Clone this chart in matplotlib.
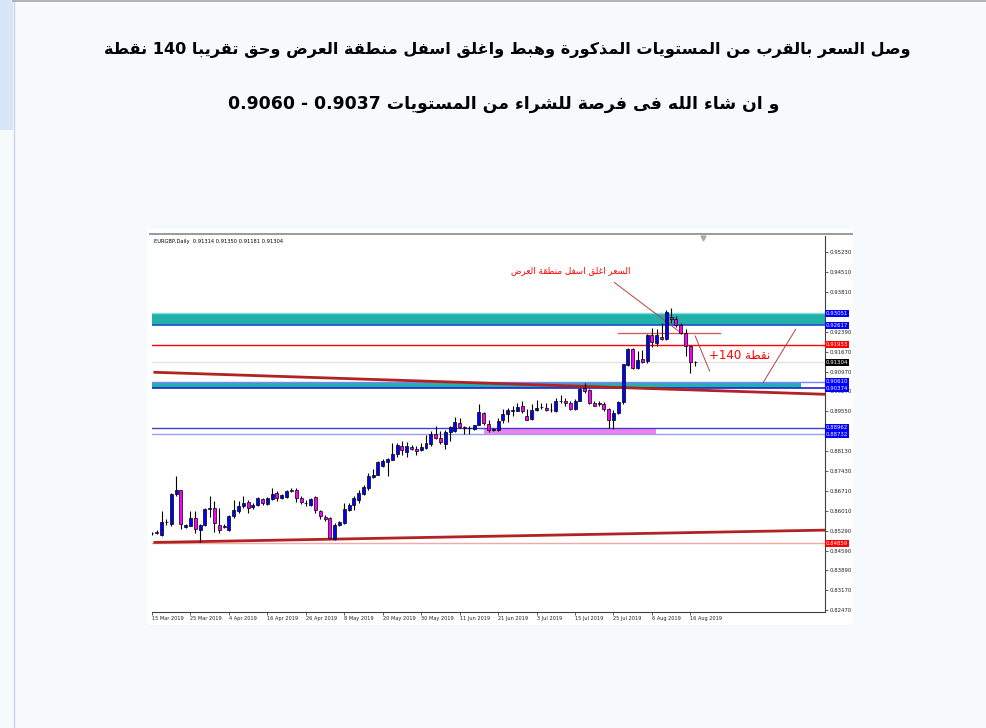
import matplotlib
matplotlib.use("Agg")
import matplotlib.pyplot as plt
import matplotlib.transforms as mtransforms
from matplotlib.patches import Rectangle
from matplotlib.lines import Line2D

# ---------------- data ----------------
TITLE_1 = "وصل السعر بالقرب من المستويات المذكورة وهبط واغلق اسفل منطقة العرض وحق تقريبا 140 نقطة"
TITLE_2 = "و ان شاء الله فى فرصة للشراء من المستويات 0.9037 - 0.9060"
NOTE_SUPPLY = "السعر اغلق اسفل منطقة العرض"
NOTE_PIPS = "+140 نقطة"
SYMBOL = "EURGBP,Daily"

opens = [0.85200, 0.85260, 0.85141, 0.85593, 0.85545, 0.86605, 0.86748, 0.85414, 0.85474, 0.85748,
         0.85331, 0.85486, 0.86070, 0.86105, 0.85498, 0.85450, 0.85331, 0.85807, 0.85986, 0.86165,
         0.86320, 0.86141, 0.86200, 0.86427, 0.86260, 0.86438, 0.86641, 0.86450, 0.86498, 0.86736,
         0.86760, 0.86462, 0.86296, 0.86212, 0.86486, 0.86010, 0.85772, 0.85748, 0.85020, 0.85510,
         0.85569, 0.86022, 0.86225, 0.86403, 0.86618, 0.86820, 0.87213, 0.87297, 0.87618, 0.87761,
         0.87833, 0.88047, 0.88309, 0.88095, 0.88285, 0.88214, 0.88166, 0.88249, 0.88404, 0.88762,
         0.88607, 0.88404, 0.88809, 0.88869, 0.89143, 0.89012, 0.88970, 0.88940, 0.89083, 0.89500,
         0.89107, 0.88881, 0.88881, 0.89262, 0.89464, 0.89560, 0.89583, 0.89738, 0.89405, 0.89286,
         0.89595, 0.89714, 0.89679, 0.89619, 0.89560, 0.89917, 0.89940, 0.89857, 0.89643, 0.89940,
         0.90393, 0.90310, 0.89857, 0.89857, 0.89833, 0.89643, 0.89238, 0.89500, 0.89893, 0.91204,
         0.91787, 0.91085, 0.91406, 0.91347, 0.92264, 0.92002, 0.92204, 0.92145, 0.92931, 0.92859,
         0.92621, 0.92359, 0.91883, 0.91314]
highs = [0.85260, 0.85307, 0.85986, 0.85712, 0.86641, 0.87260, 0.86760, 0.85520, 0.85986, 0.85986,
         0.85545, 0.86105, 0.86522, 0.86343, 0.86105, 0.85520, 0.85867, 0.86403, 0.86343, 0.86522,
         0.86403, 0.86284, 0.86486, 0.86462, 0.86486, 0.86820, 0.86700, 0.86617, 0.86760, 0.86820,
         0.86820, 0.86522, 0.86403, 0.86462, 0.86522, 0.86046, 0.85867, 0.85784, 0.85569, 0.85629,
         0.86284, 0.86284, 0.86523, 0.86761, 0.86939, 0.87356, 0.87499, 0.87773, 0.87856, 0.87892,
         0.88428, 0.88428, 0.88512, 0.88452, 0.88369, 0.88309, 0.88428, 0.88726, 0.88845, 0.89024,
         0.88845, 0.88905, 0.89024, 0.89357, 0.89321, 0.89024, 0.89024, 0.89083, 0.89798, 0.89536,
         0.89262, 0.88960, 0.89321, 0.89643, 0.89679, 0.89762, 0.89857, 0.89917, 0.89643, 0.89798,
         0.89952, 0.89857, 0.89857, 0.89857, 0.90036, 0.90119, 0.90036, 0.89917, 0.89976, 0.90393,
         0.90548, 0.90357, 0.89917, 0.89917, 0.89881, 0.89679, 0.89619, 0.89917, 0.91250, 0.91823,
         0.91823, 0.91704, 0.91728, 0.92300, 0.92538, 0.92502, 0.92692, 0.93157, 0.93252, 0.92954,
         0.92692, 0.92502, 0.91918, 0.91350]
lows = [0.85150, 0.85164, 0.85117, 0.85498, 0.85450, 0.86545, 0.85355, 0.85390, 0.85450, 0.85212,
        0.84879, 0.85450, 0.85800, 0.85236, 0.85212, 0.85380, 0.85300, 0.85760, 0.85926, 0.86120,
        0.85926, 0.86070, 0.86165, 0.86224, 0.86224, 0.86403, 0.86343, 0.86427, 0.86462, 0.86665,
        0.86320, 0.86260, 0.86189, 0.86189, 0.85926, 0.85712, 0.85628, 0.84990, 0.84975, 0.85450,
        0.85545, 0.85986, 0.86046, 0.86284, 0.86582, 0.86761, 0.87178, 0.87297, 0.87571, 0.87237,
        0.87809, 0.87928, 0.87999, 0.87928, 0.88190, 0.88011, 0.88130, 0.88214, 0.88309, 0.88571,
        0.88404, 0.88214, 0.88488, 0.88833, 0.88964, 0.88762, 0.88762, 0.88905, 0.89059, 0.89083,
        0.88833, 0.88850, 0.88845, 0.89143, 0.89166, 0.89381, 0.89560, 0.89500, 0.89238, 0.89238,
        0.89560, 0.89643, 0.89560, 0.89524, 0.89536, 0.89857, 0.89738, 0.89595, 0.89619, 0.89917,
        0.90214, 0.89821, 0.89738, 0.89738, 0.89560, 0.88964, 0.88928, 0.89476, 0.89800, 0.91168,
        0.91049, 0.91049, 0.91287, 0.91287, 0.91859, 0.91883, 0.92097, 0.92097, 0.92716, 0.92573,
        0.92300, 0.91526, 0.90930, 0.91181]
closes = [0.85210, 0.85212, 0.85593, 0.85605, 0.86605, 0.86748, 0.85545, 0.85498, 0.85748, 0.85343,
          0.85498, 0.86058, 0.86094, 0.85569, 0.85331, 0.85426, 0.85831, 0.86046, 0.86189, 0.86284,
          0.86105, 0.86224, 0.86450, 0.86284, 0.86450, 0.86617, 0.86462, 0.86581, 0.86700, 0.86724,
          0.86462, 0.86308, 0.86284, 0.86427, 0.86046, 0.85807, 0.85724, 0.85040, 0.85510, 0.85593,
          0.86070, 0.86224, 0.86463, 0.86642, 0.86856, 0.87237, 0.87297, 0.87737, 0.87773, 0.87856,
          0.88047, 0.88369, 0.88166, 0.88309, 0.88226, 0.88154, 0.88273, 0.88428, 0.88762, 0.88607,
          0.88452, 0.88809, 0.88988, 0.89178, 0.89000, 0.88952, 0.88964, 0.89059, 0.89524, 0.89131,
          0.88881, 0.88940, 0.89202, 0.89464, 0.89619, 0.89619, 0.89714, 0.89560, 0.89262, 0.89619,
          0.89679, 0.89726, 0.89595, 0.89607, 0.89940, 0.89929, 0.89857, 0.89643, 0.89940, 0.90333,
          0.90274, 0.89857, 0.89762, 0.89798, 0.89643, 0.89238, 0.89500, 0.89893, 0.91228, 0.91787,
          0.91085, 0.91370, 0.91323, 0.92264, 0.92026, 0.92264, 0.92121, 0.93097, 0.92859, 0.92621,
          0.92359, 0.91883, 0.91323, 0.91304]

date_labels = ["15 Mar 2019", "25 Mar 2019", "4 Apr 2019", "16 Apr 2019", "26 Apr 2019",
               "8 May 2019", "20 May 2019", "30 May 2019", "11 Jun 2019", "21 Jun 2019",
               "3 Jul 2019", "15 Jul 2019", "25 Jul 2019", "6 Aug 2019", "16 Aug 2019"]
date_bars = [0, 8, 16, 24, 32, 40, 48, 56, 64, 72, 80, 88, 96, 104, 112]

# scale labels that are not covered by the coloured price tags
price_ticks = [0.95230, 0.94510, 0.93810, 0.92390, 0.91670, 0.90970, 0.90270,
               0.89550, 0.88130, 0.87430, 0.86710, 0.86010, 0.85290, 0.84590,
               0.83890, 0.83170, 0.82470]

supply_zone = (0.92617, 0.93051)
demand_zone = (0.90374, 0.90610, 135.0)     # low, high, last bar
buy_zone = (0.88732, 0.88962, 69.1, 104.9)  # low, high, first bar, last bar
resistance = 0.91933
support = 0.84859
peak_line = (97.0, 118.2, 0.92360)
upper_trend = [(0.3, 0.90948), (140.0, 0.90162)]
lower_trend = [(0.3, 0.84880), (140.0, 0.85319)]
arrows = [[(96.2, 0.94147), (109.9, 0.92371)],
          [(113.0, 0.92239), (116.0, 0.90988)],
          [(127.1, 0.90573), (133.9, 0.92478)]]
note_supply_at = (87.1, 0.94587)
note_pips_at = (122.2, 0.91549)

# ---------------- simple arabic shaping (matplotlib has no bidi / joining) ----------------
_AR = [("\u0621", 0xFE80, "U"), ("\u0622", 0xFE81, "R"), ("\u0623", 0xFE83, "R"),
       ("\u0624", 0xFE85, "R"), ("\u0625", 0xFE87, "R"), ("\u0626", 0xFE89, "D"),
       ("\u0627", 0xFE8D, "R"), ("\u0628", 0xFE8F, "D"), ("\u0629", 0xFE93, "R"),
       ("\u062A", 0xFE95, "D"), ("\u062B", 0xFE99, "D"), ("\u062C", 0xFE9D, "D"),
       ("\u062D", 0xFEA1, "D"), ("\u062E", 0xFEA5, "D"), ("\u062F", 0xFEA9, "R"),
       ("\u0630", 0xFEAB, "R"), ("\u0631", 0xFEAD, "R"), ("\u0632", 0xFEAF, "R"),
       ("\u0633", 0xFEB1, "D"), ("\u0634", 0xFEB5, "D"), ("\u0635", 0xFEB9, "D"),
       ("\u0636", 0xFEBD, "D"), ("\u0637", 0xFEC1, "D"), ("\u0638", 0xFEC5, "D"),
       ("\u0639", 0xFEC9, "D"), ("\u063A", 0xFECD, "D"), ("\u0641", 0xFED1, "D"),
       ("\u0642", 0xFED5, "D"), ("\u0643", 0xFED9, "D"), ("\u0644", 0xFEDD, "D"),
       ("\u0645", 0xFEE1, "D"), ("\u0646", 0xFEE5, "D"), ("\u0647", 0xFEE9, "D"),
       ("\u0648", 0xFEED, "R"), ("\u0649", 0xFEEF, "R"), ("\u064A", 0xFEF1, "D")]
FORMS = {c: (b, t) for c, b, t in _AR}
LAM_ALEF = {"\u0622": 0xFEF5, "\u0623": 0xFEF7, "\u0625": 0xFEF9, "\u0627": 0xFEFB}


def _jtype(c):
    if c is None:
        return None
    if isinstance(c, int):
        return "R"
    return FORMS[c][1] if c in FORMS else None


def shape_word(word):
    units = []
    k = 0
    while k < len(word):
        if word[k] == "\u0644" and k + 1 < len(word) and word[k + 1] in LAM_ALEF:
            units.append(LAM_ALEF[word[k + 1]])
            k += 2
        else:
            units.append(word[k])
            k += 1
    out = []
    for k, u in enumerate(units):
        t = _jtype(u)
        if t is None:
            out.append(u)
            continue
        prev = units[k - 1] if k > 0 else None
        nxt = units[k + 1] if k + 1 < len(units) else None
        jp = t in ("D", "R") and _jtype(prev) == "D"
        jn = t == "D" and _jtype(nxt) in ("D", "R")
        idx = 3 if (jp and jn) else 1 if jp else 2 if jn else 0
        base = u if isinstance(u, int) else FORMS[u][0]
        out.append(chr(base + idx))
    return "".join(out)


def visual(text, rtl=True):
    words = []
    for w in text.split(" "):
        if any(c in FORMS for c in w):
            words.append(shape_word(w)[::-1])
        else:
            words.append(w)
    if rtl:
        words = words[::-1]
    return " ".join(words)


# ---------------- page ----------------
W, H = 986, 728
fig = plt.figure(figsize=(W / 100, H / 100), dpi=100)
fig.patch.set_facecolor("#f7fafd")


def fx(px):
    return px / W


def fy(py):
    return 1 - py / H


fig.add_artist(Rectangle((0, fy(130)), fx(13), 130 / H, transform=fig.transFigure,
                         facecolor="#d6e6f6", edgecolor="none", zorder=-5))
fig.add_artist(Line2D([fx(13.5), fx(13.5)], [0, 1], transform=fig.transFigure,
                      color="#c3d6ea", lw=1, zorder=-5))
fig.add_artist(Line2D([fx(13), 1], [fy(1), fy(1)], transform=fig.transFigure,
                      color="#a8a8a8", lw=1.2, zorder=-5))

fig.text(fx(507), fy(50), visual(TITLE_1), ha="center", va="center",
         fontsize=11.6, fontweight="bold", family="DejaVu Sans", color="black")
fig.text(fx(504), fy(104), visual(TITLE_2), ha="center", va="center",
         fontsize=12.4, fontweight="bold", family="DejaVu Sans", color="black")

# chart image background
fig.add_artist(Rectangle((fx(147), fy(625)), fx(853 - 147), (625 - 229) / H,
                         transform=fig.transFigure, facecolor="white", edgecolor="none", zorder=-4))
fig.add_artist(Line2D([fx(150), fx(852)], [fy(234), fy(234)], transform=fig.transFigure,
                      color="#9a9a9a", lw=1.4, zorder=5))

# ---------------- chart ----------------
ax = fig.add_axes([fx(152), fy(612), fx(825 - 152), (612 - 236) / H])
ax.set_facecolor("white")
ax.set_xlim(0.3, 140.0)
ax.set_ylim(0.82400, 0.95805)

for side in ["left", "top"]:
    ax.spines[side].set_visible(False)
ax.spines["right"].set_color("#404040")
ax.spines["bottom"].set_color("#404040")
ax.spines["right"].set_linewidth(0.8)
ax.spines["bottom"].set_linewidth(0.8)

xs = list(range(len(opens)))

# zones
ax.add_patch(Rectangle((-5, supply_zone[0]), 160, supply_zone[1] - supply_zone[0],
                       facecolor="#20b2aa", edgecolor="none", zorder=1))
ax.add_patch(Rectangle((-5, demand_zone[0]), demand_zone[2] + 5, demand_zone[1] - demand_zone[0],
                       facecolor="#20b2aa", edgecolor="none", zorder=1))
ax.add_patch(Rectangle((buy_zone[2], buy_zone[0]), buy_zone[3] - buy_zone[2], buy_zone[1] - buy_zone[0],
                       facecolor="#ee82ee", edgecolor="none", zorder=1))

ax.axhline(supply_zone[1], color="#7fe0e0", lw=1.0, zorder=2)
ax.axhline(supply_zone[0], color="#1a4fd0", lw=1.2, zorder=2)
ax.axhline(demand_zone[1], color="#8080ff", lw=1.0, zorder=2)
ax.axhline(demand_zone[0], color="#1f1fe0", lw=1.2, zorder=2)
ax.axhline(buy_zone[1], color="#4040c8", lw=1.0, zorder=2)
ax.axhline(buy_zone[0], color="#9c9cff", lw=1.0, zorder=2)
ax.axhline(resistance, color="#ff0000", lw=1.0, zorder=2)
ax.axhline(support, color="#f4a8a8", lw=1.0, zorder=2)
ax.axhline(closes[-1], color="#e2e2e2", lw=1.0, zorder=1.5)

# trend lines
for line in (upper_trend, lower_trend):
    ax.plot([p[0] for p in line], [p[1] for p in line], color="#b22222", lw=2.0,
            solid_capstyle="butt", zorder=2.5)
ax.plot([peak_line[0], peak_line[1]], [peak_line[2], peak_line[2]], color="#d06060", lw=1.0, zorder=2.5)
for a in arrows:
    ax.plot([a[0][0], a[1][0]], [a[0][1], a[1][1]], color="#b84040", lw=0.7, zorder=2.5)

# candles
bull = [c >= o for o, c in zip(opens, closes)]
body_col = ["#0000ff" if b else "#ff00ff" for b in bull]
ax.vlines(xs, lows, highs, color="black", lw=0.8, zorder=3)
ax.bar(xs, [c - o for o, c in zip(opens, closes)], bottom=opens, width=0.62,
       color=body_col, edgecolor="black", linewidth=0.5, zorder=4)

# annotations
ax.text(note_supply_at[0], note_supply_at[1], visual(NOTE_SUPPLY), color="#ff0000",
        fontsize=6.3, ha="center", va="center", family="DejaVu Sans", zorder=6)
ax.text(note_pips_at[0], note_pips_at[1], visual(NOTE_PIPS, rtl=False), color="#ff0000",
        fontsize=8.5, ha="center", va="center", family="DejaVu Sans", zorder=6)

ax.text(0.003, 0.993, f"{SYMBOL}  {opens[-1]:.5f} {highs[-1]:.5f} {lows[-1]:.5f} {closes[-1]:.5f}",
        transform=ax.transAxes, fontsize=3.7, ha="left", va="top", color="black")
ax.plot([114.7], [0.9575], marker="v", color="#a8a8a8", ms=3.5, zorder=6, clip_on=False)

# axes ticks
ax.yaxis.tick_right()
ax.set_yticks(price_ticks)
ax.set_yticklabels([f"{v:.5f}" for v in price_ticks])
ax.tick_params(axis="y", length=2, width=0.5, pad=1, labelsize=3.9, colors="#202020")
ax.set_xticks(date_bars)
ax.set_xticklabels(date_labels)
ax.tick_params(axis="x", length=2, width=0.5, pad=0.8, labelsize=3.6, colors="#202020")
for lbl in ax.get_xticklabels():
    lbl.set_horizontalalignment("left")

# coloured price labels on the scale
tr = mtransforms.blended_transform_factory(ax.transAxes, ax.transData)
price_tags = [(supply_zone[1], "#0000ff", "white"), (supply_zone[0], "#0000ff", "white"),
              (resistance, "#ff0000", "white"), (closes[-1], "#000000", "white"),
              (demand_zone[1], "#0000ff", "white"), (demand_zone[0], "#0000ff", "white"),
              (buy_zone[1], "#0000ff", "white"), (buy_zone[0], "#0000ff", "white"),
              (support, "#ff0000", "white")]
for val, bg, fg in price_tags:
    ax.text(1.0015, val, f"{val:.5f}", transform=tr, fontsize=3.9, color=fg, ha="left",
            va="center", clip_on=False, zorder=10,
            bbox=dict(boxstyle="square,pad=0.18", facecolor=bg, edgecolor="none"))

fig.savefig("out.png", dpi=100, facecolor=fig.get_facecolor())
